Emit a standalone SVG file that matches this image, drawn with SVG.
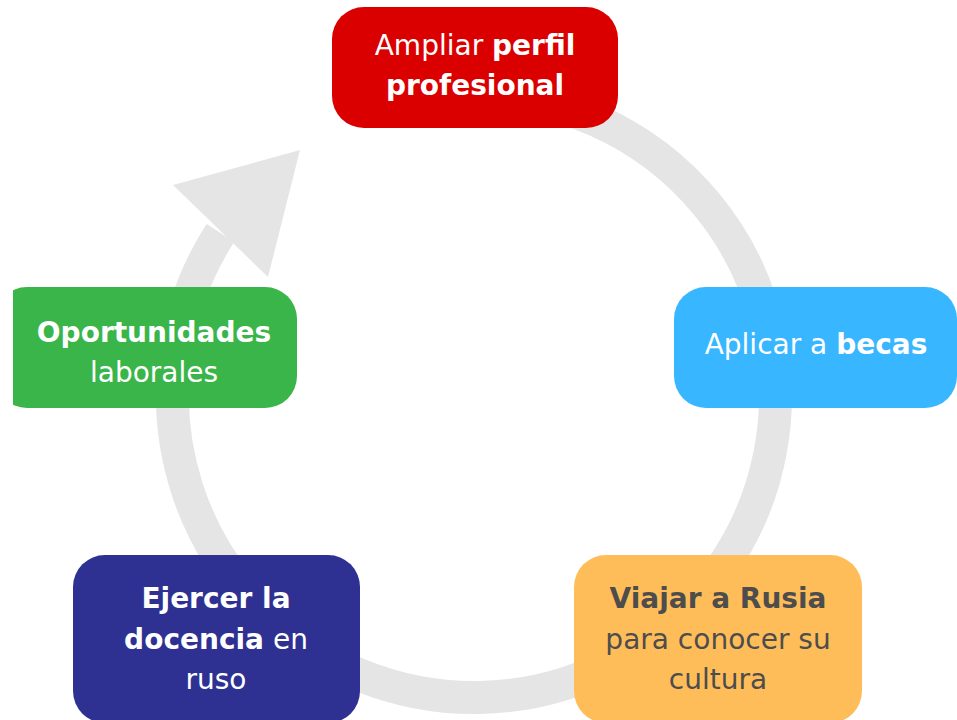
<svg xmlns="http://www.w3.org/2000/svg" width="957" height="720" viewBox="0 0 957 720">
  <style>
    .lbl { font-family: "DejaVu Sans", "Liberation Sans", sans-serif; font-size: 28px; fill: #ffffff; text-anchor: middle; }
    .dark { fill: #4d4d4d; }
    .b { font-weight: bold; }
    .ring { fill: none; stroke: #e5e5e5; stroke-width: 33; }
    .head { fill: #e5e5e5; }
  </style>
  <defs>
    <clipPath id="leftClip"><rect x="13" y="0" width="944" height="720"/></clipPath>
  </defs>
  <rect x="0" y="0" width="957" height="720" fill="#ffffff"/>
  <g id="connectors">
    <path class="ring" d="M 474 94.5 A 301.5 301.5 0 1 1 220.4 232.9"/>
    <polygon class="head" points="300,150 173,185 268,277"/>
  </g>
  <g id="node-ampliar">
    <rect x="332" y="7" width="286" height="121" rx="32" fill="#db0000"/>
    <text class="lbl" x="475" y="55">Ampliar <tspan class="b">perfil</tspan></text>
    <text class="lbl b" x="475" y="95">profesional</text>
  </g>
  <g id="node-becas">
    <rect x="674" y="287" width="283" height="121" rx="32" fill="#38b6ff"/>
    <text class="lbl" x="816" y="354">Aplicar a <tspan class="b">becas</tspan></text>
  </g>
  <g id="node-viajar">
    <rect x="574" y="555" width="288" height="168" rx="32" fill="#ffbd59"/>
    <text class="lbl dark b" x="718" y="608">Viajar a Rusia</text>
    <text class="lbl dark" x="718" y="649">para conocer su</text>
    <text class="lbl dark" x="718" y="689">cultura</text>
  </g>
  <g id="node-ejercer">
    <rect x="73" y="555" width="287" height="168" rx="32" fill="#2e3192"/>
    <text class="lbl b" x="216" y="608">Ejercer la</text>
    <text class="lbl" x="216" y="649"><tspan class="b">docencia</tspan> en</text>
    <text class="lbl" x="216" y="689">ruso</text>
  </g>
  <g id="node-oportunidades">
    <rect x="-5" y="287" width="302" height="121" rx="32" fill="#39b54a" clip-path="url(#leftClip)"/>
    <text class="lbl b" x="154" y="342">Oportunidades</text>
    <text class="lbl" x="154" y="382">laborales</text>
  </g>
</svg>
